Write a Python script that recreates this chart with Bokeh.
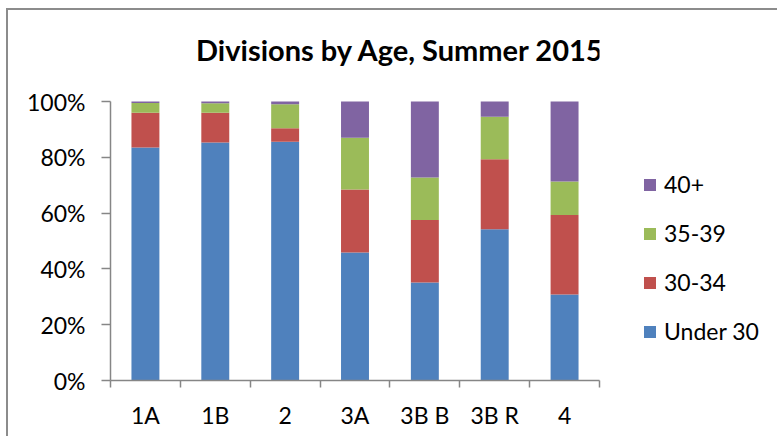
from bokeh.plotting import figure
from bokeh.models import (ColumnDataSource, Range1d, LinearAxis, FixedTicker, NumeralTickFormatter,
                          Legend, LegendItem, Label)
from bokeh.embed import file_html
from bokeh.resources import INLINE

divisions = ["1A", "1B", "2", "3A", "3B B", "3B R", "4"]
under_30 = [83.5, 85.3, 85.6, 45.9, 35.1, 54.2, 30.8]
age_30_34 = [12.5, 10.7, 4.8, 22.6, 22.4, 25.1, 28.5]
age_35_39 = [3.5, 3.4, 8.6, 18.5, 15.3, 15.2, 12.0]
age_40_plus = [0.5, 0.6, 1.0, 13.0, 27.2, 5.5, 28.7]
series_names = ["Under 30", "30-34", "35-39", "40+"]
y_ticks = [0, 0.2, 0.4, 0.6, 0.8, 1.0]
title_text = "Divisions by Age, Summer 2015"

colors = ["#4F81BD", "#C0504D", "#9BBB59", "#8064A2"]
FONT = "Lato"
AXIS_GRAY = "#868686"

n = len(divisions)
centers = [i + 0.5 for i in range(n)]
series = [under_30, age_30_34, age_35_39, age_40_plus]
totals = [sum(v) for v in zip(*series)]
data = {"x": centers, "div": divisions}
for name, vals in zip(series_names, series):
    data[name] = [v / t for v, t in zip(vals, totals)]
source = ColumnDataSource(data)

FRAME_H = 370
PLOT_H = 279  # pixels from 0% to 100%

p = figure(width=769, height=428, x_range=Range1d(0, n), y_range=Range1d(0, FRAME_H / PLOT_H),
           output_backend="svg", toolbar_location=None,
           x_axis_location=None, y_axis_location=None,
           min_border_left=102, min_border_right=178, min_border_top=0, min_border_bottom=58)
p.frame_width = 489
p.frame_height = FRAME_H
p.outline_line_color = None
p.xgrid.visible = False
p.ygrid.visible = False
p.background_fill_color = "white"
p.border_fill_color = "white"
p.styles = {"margin-left": "8px", "margin-top": "10px",
            "box-shadow": "-2px -2px 0px 0px #8c8c8c",
            "clip-path": "inset(-4px 3px 0px -4px)"}

renderers = p.vbar_stack(series_names, x="x", width=0.4, color=colors, line_color=None,
                         source=source)

# y axis
yax = LinearAxis(ticker=FixedTicker(ticks=y_ticks), formatter=NumeralTickFormatter(format="0%"),
                 bounds=(0, 1))
yax.major_tick_out = 9
yax.major_tick_in = 0
yax.minor_tick_line_color = None
yax.axis_line_color = AXIS_GRAY
yax.axis_line_width = 1.5
yax.major_tick_line_color = AXIS_GRAY
yax.major_tick_line_width = 1.5
yax.major_label_text_font = FONT
yax.major_label_text_font_size = "23px"
yax.major_label_text_color = "black"
yax.major_label_standoff = 16
p.add_layout(yax, "left")

# x axis: boundary ticks between categories
bounds_ticks = list(range(n + 1))
xt = LinearAxis(ticker=FixedTicker(ticks=bounds_ticks),
                major_label_overrides={t: "" for t in bounds_ticks})
xt.major_tick_out = 7
xt.major_tick_in = 0
xt.minor_tick_line_color = None
xt.axis_line_color = AXIS_GRAY
xt.axis_line_width = 1.5
xt.major_tick_line_color = AXIS_GRAY
xt.major_tick_line_width = 1.5
xt.major_label_standoff = 0
p.add_layout(xt, "below")

# x axis: category labels at centres
xc = LinearAxis(ticker=FixedTicker(ticks=centers),
                major_label_overrides={c: d for c, d in zip(centers, divisions)})
xc.axis_line_color = None
xc.major_tick_line_color = None
xc.minor_tick_line_color = None
xc.major_label_text_font = FONT
xc.major_label_text_font_size = "23px"
xc.major_label_text_color = "black"
xc.major_label_standoff = 7
p.add_layout(xc, "below")

# title
p.add_layout(Label(x=290, y=331, x_units="screen", y_units="screen", text=title_text,
                   text_font=FONT, text_font_size="29px", text_font_style="bold",
                   text_align="center", text_baseline="middle", text_color="black"))

# legend
items = [LegendItem(label=s, renderers=[r]) for s, r in zip(series_names, renderers)][::-1]
legend = Legend(items=items, location=(43, 35), orientation="vertical")
legend.glyph_width = 15
legend.glyph_height = 15
legend.label_standoff = 7
legend.spacing = 21
legend.padding = 0
legend.margin = 0
legend.border_line_color = None
legend.background_fill_alpha = 0
legend.label_text_font = FONT
legend.label_text_font_size = "23px"
legend.label_text_color = "black"
p.add_layout(legend, "right")

open("out.html", "w").write(file_html(p, INLINE))
